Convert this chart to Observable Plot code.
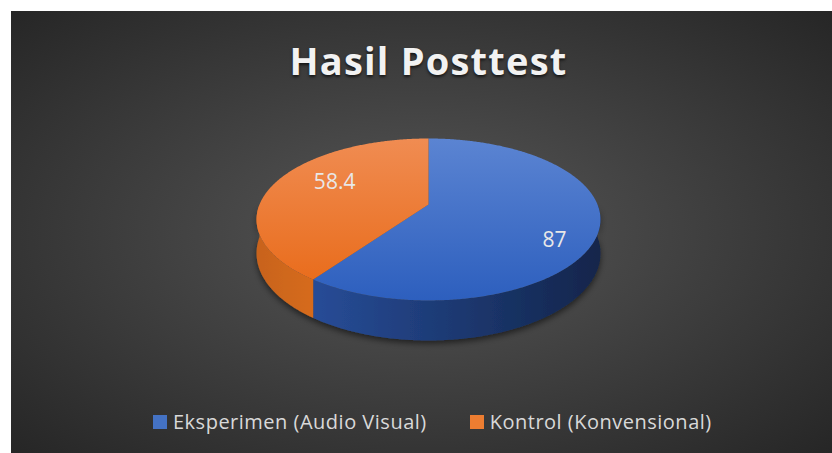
<!DOCTYPE html>
<html>
<head>
<meta charset="utf-8">
<script src="https://cdn.jsdelivr.net/npm/d3@7"></script>
<script src="https://cdn.jsdelivr.net/npm/@observablehq/plot@0.6"></script>
<style>
  html, body { margin: 0; padding: 0; background: #ffffff; overflow: hidden; }
  body { width: 832px; height: 453px; position: relative; font-family: "Open Sans", sans-serif; }
  #bg { position: absolute; left: 11px; top: 11px; width: 821px; height: 442px;
        background: radial-gradient(ellipse farthest-corner at 50% 50%, #575757 0%, #262626 100%); }
  #title { position: absolute; left: 0; width: 857px; top: 34px; text-align: center;
           font: bold 38px "Open Sans", sans-serif; letter-spacing: 1.2px; color: #f2f2f2;
           text-shadow: 0 2px 3px rgba(0,0,0,0.65); white-space: nowrap; }
  #chart { position: absolute; left: 0; top: 100px; }
  #legend { position: absolute; left: 153px; top: 408px; display: flex; align-items: center;
            font: 20px "Open Sans", sans-serif; letter-spacing: 0.5px; color: #d9d9d9; line-height: 27px; white-space: nowrap; }
  .item { display: flex; align-items: center; }
  .item + .item { margin-left: 43px; }
  .sw { width: 14px; height: 14px; margin-right: 6px; }
</style>
</head>
<body>
<div id="bg"></div>
<div id="title"></div>
<div id="chart"></div>
<div id="legend"></div>
<script>
// ---- data ----
const title = "Hasil Posttest";
const categories = ["Eksperimen (Audio Visual)", "Kontrol (Konvensional)"];
const values = [87, 58.4];
const sliceColors = ["#4472C4", "#ED7D31"];

// ---- 3D pie geometry (perspective tilt) ----
const persp = 0.185;   // perspective factor
const depth = 0.417;   // pie thickness (in y units)
function proj(a, r, z) {
  const u = r * Math.sin(a), v = r * Math.cos(a), w = 1 + persp * v;
  return {X: u / w, Y: (v - z) / w};
}
const arcs = d3.pie().sort(null)(values);
const step = Math.PI / 360;
function arcAngles(a0, a1) {
  const n = Math.max(2, Math.ceil((a1 - a0) / step));
  return d3.range(n + 1).map(i => a0 + (a1 - a0) * i / n);
}
const topFaces = [], sideFaces = [];
arcs.forEach((arc, i) => {
  topFaces.push({key: i, fill: `url(#top${i})`, ...proj(0, 0, 0)});
  arcAngles(arc.startAngle, arc.endAngle).forEach(a => topFaces.push({key: i, fill: `url(#top${i})`, ...proj(a, 1, 0)}));
  const s = Math.max(arc.startAngle, Math.PI / 2), e = Math.min(arc.endAngle, 3 * Math.PI / 2);
  if (e > s) {
    const angs = arcAngles(s, e);
    angs.forEach(a => sideFaces.push({key: i, fill: `url(#side${i})`, ...proj(a, 1, 0)}));
    angs.slice().reverse().forEach(a => sideFaces.push({key: i, fill: `url(#side${i})`, ...proj(a, 1, depth)}));
  }
});
const labels = arcs.map((arc, i) => {
  const m = (arc.startAngle + arc.endAngle) / 2;
  const r = 0.75, u = r * Math.sin(m), v = r * Math.cos(m), w = 1 + persp * v;
  return {i, text: String(values[i]), X: u / w, Y: (v - depth / 2) / w};
});

const defs = () => {
  const g = document.createElementNS("http://www.w3.org/2000/svg", "defs");
  g.innerHTML = `
    <linearGradient id="top0" x1="0" y1="0" x2="0" y2="1">
      <stop offset="0" stop-color="#5b84d2"/><stop offset="1" stop-color="#2d5fbe"/></linearGradient>
    <linearGradient id="top1" x1="0" y1="0" x2="0" y2="1">
      <stop offset="0" stop-color="#f08c52"/><stop offset="1" stop-color="#e96d1d"/></linearGradient>
    <linearGradient id="side0" x1="0" y1="0" x2="1" y2="0">
      <stop offset="0" stop-color="#274c97"/><stop offset="1" stop-color="#12254b"/></linearGradient>
    <linearGradient id="side1" x1="0" y1="0" x2="1" y2="0">
      <stop offset="0" stop-color="#c8631c"/><stop offset="1" stop-color="#d66b1f"/></linearGradient>
    <filter id="shadow" x="-20%" y="-20%" width="140%" height="160%">
      <feDropShadow dx="0" dy="3" stdDeviation="3" flood-color="#000" flood-opacity="0.55"/></filter>`;
  return g;
};

const chart = Plot.plot({
  width: 832,
  height: 300,
  margin: 0,
  style: {background: "transparent", overflow: "visible"},
  x: {domain: [-1, 1], range: [259, 597], axis: null},
  y: {domain: [-1, 1], range: [182.2, 25.8], axis: null},
  color: {type: "identity"},
  marks: [
    defs,
    Plot.line(sideFaces, {x: "X", y: "Y", z: "key", fill: "fill", stroke: "none", curve: "linear",
      render: (index, scales, values, dims, context, next) => {
        const g = next(index, scales, values, dims, context);
        g.setAttribute("filter", "url(#shadow)");
        return g;
      }}),
    Plot.line(topFaces, {x: "X", y: "Y", z: "key", fill: "fill", stroke: "none", curve: "linear"}),
    Plot.text(labels.filter(d => d.i === 0), {x: "X", y: "Y", text: "text", fill: "#e8e8e8",
      fontSize: 21, fontFamily: "Open Sans"}),
    Plot.text(labels.filter(d => d.i === 1), {x: "X", y: "Y", text: "text", fill: "#e8e8e8",
      fontSize: 21, fontFamily: "Open Sans", dx: 22, dy: -21})
  ]
});
document.getElementById("chart").appendChild(chart);
document.getElementById("title").textContent = title;

const legend = document.getElementById("legend");
categories.forEach((c, i) => {
  const item = document.createElement("div");
  item.className = "item";
  const sw = document.createElement("div");
  sw.className = "sw";
  sw.style.background = sliceColors[i];
  const t = document.createElement("span");
  t.textContent = c;
  item.appendChild(sw); item.appendChild(t);
  legend.appendChild(item);
});
</script>
</body>
</html>
